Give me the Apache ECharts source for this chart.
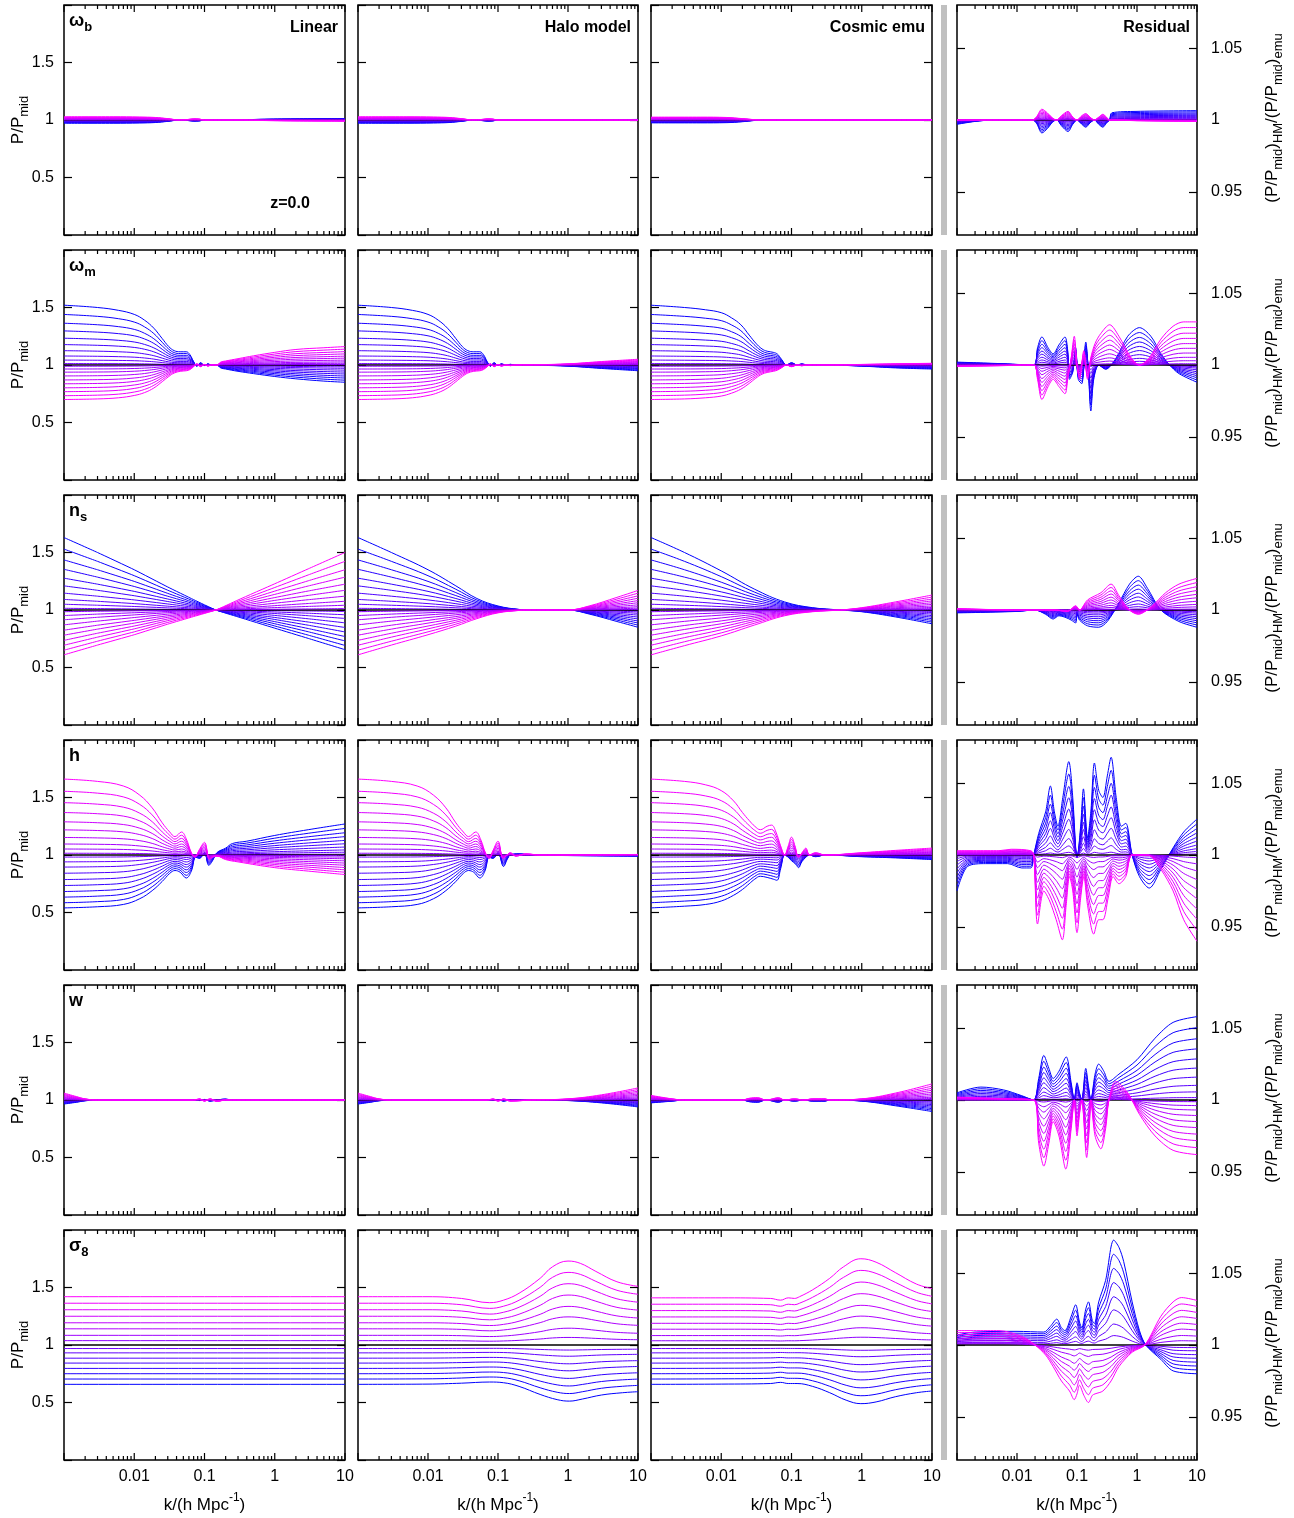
<!DOCTYPE html>
<html>
<head>
<meta charset="utf-8">
<script src="https://cdn.jsdelivr.net/npm/echarts@6/dist/echarts.min.js"></script>
<style>
  html, body { margin: 0; padding: 0; background: #fff; }
  #chart { width: 1294px; height: 1518px; }
</style>
</head>
<body>
<div id="chart"></div>
<script>
// ---------------------------------------------------------------------------
// Power-spectrum response to each cosmological parameter, z = 0.
// Each panel stores the two extreme curves of its family as [k, ratio] pairs:
// the "Blue" end and the "Mag" (magenta) end. The inner curves of a family sit
// between the extreme and the mid model at the fractions given per row.
// ---------------------------------------------------------------------------

// ---- omega_b ----
const ombLinBlue = [[0.001,0.972],[0.005,0.972],[0.012,0.974],[0.02,0.978],[0.03,0.988],[0.042,0.998],[0.055,0.997],[0.07,0.99],[0.085,0.992],[0.1,1.0],[0.3,1.0],[0.6,1.006],[2,1.01],[10,1.012]];
const ombLinMag  = [[0.001,1.028],[0.005,1.028],[0.012,1.026],[0.02,1.022],[0.03,1.012],[0.042,1.002],[0.055,1.003],[0.07,1.01],[0.085,1.008],[0.1,1.0],[0.3,1.0],[0.6,0.996],[2,0.992],[10,0.99]];
const ombHaloBlue = [[0.001,0.972],[0.005,0.972],[0.012,0.974],[0.02,0.978],[0.03,0.988],[0.042,0.998],[0.055,0.997],[0.07,0.99],[0.085,0.992],[0.1,1.0],[1,1.0],[10,1.005]];
const ombHaloMag  = [[0.001,1.028],[0.005,1.028],[0.012,1.026],[0.02,1.022],[0.03,1.012],[0.042,1.002],[0.055,1.003],[0.07,1.01],[0.085,1.008],[0.1,1.0],[1,1.0],[10,0.998]];
const ombEmuBlue = [[0.001,0.975],[0.005,0.975],[0.012,0.977],[0.02,0.985],[0.03,0.996],[0.04,1.0],[10,1.0]];
const ombEmuMag  = [[0.001,1.025],[0.005,1.025],[0.012,1.022],[0.02,1.012],[0.03,1.003],[0.04,1.0],[10,1.0]];
const ombResBlue = [[0.001,0.997],[0.002,0.999],[0.004,1.0],[0.018,1.0],[0.021,0.998],[0.026,0.991],[0.032,0.994],[0.04,0.999],[0.046,1.0],[0.055,0.996],[0.071,0.992],[0.085,0.997],[0.1,1.0],[0.12,0.997],[0.14,0.995],[0.165,0.998],[0.195,1.0],[0.23,0.997],[0.27,0.995],[0.31,0.998],[0.35,1.0],[0.38,1.005],[1,1.006],[10,1.0065]];
const ombResMag  = [[0.001,1.0],[0.018,1.0],[0.021,1.002],[0.026,1.0075],[0.032,1.005],[0.04,1.001],[0.046,1.0],[0.055,1.003],[0.071,1.006],[0.085,1.002],[0.1,1.0],[0.12,1.003],[0.14,1.0045],[0.165,1.002],[0.195,1.0],[0.23,1.002],[0.27,1.004],[0.31,1.002],[0.35,1.0],[0.38,1.0],[1,0.9995],[10,0.999]];

// ---- omega_m ----
const ommLinBlue = [[0.001,1.52],[0.003,1.5],[0.006,1.475],[0.01,1.44],[0.014,1.39],[0.019,1.32],[0.025,1.23],[0.031,1.16],[0.037,1.125],[0.045,1.115],[0.055,1.115],[0.062,1.09],[0.07,1.03],[0.078,0.99],[0.088,1.02],[0.1,0.995],[0.112,1.01],[0.125,1.0],[0.15,1.0],[0.17,0.975],[0.2,0.965],[0.3,0.945],[0.5,0.925],[1,0.9],[2,0.88],[5,0.86],[10,0.85]];
const ommLinMag  = [[0.001,0.70],[0.003,0.705],[0.006,0.715],[0.01,0.735],[0.014,0.76],[0.019,0.8],[0.025,0.855],[0.031,0.9],[0.037,0.93],[0.045,0.945],[0.055,0.95],[0.062,0.96],[0.07,0.985],[0.078,1.01],[0.088,0.985],[0.1,1.005],[0.112,0.99],[0.125,1.0],[0.15,1.0],[0.17,1.025],[0.2,1.035],[0.3,1.055],[0.5,1.08],[1,1.11],[2,1.135],[5,1.15],[10,1.16]];
const ommHaloBlue = [[0.001,1.52],[0.003,1.5],[0.006,1.475],[0.01,1.44],[0.014,1.39],[0.019,1.32],[0.025,1.23],[0.031,1.16],[0.037,1.125],[0.045,1.115],[0.055,1.115],[0.062,1.09],[0.07,1.03],[0.078,0.99],[0.088,1.02],[0.1,0.995],[0.112,1.01],[0.13,1.0],[0.15,1.006],[0.18,1.0],[0.4,0.997],[1,0.99],[3,0.97],[10,0.95]];
const ommHaloMag  = [[0.001,0.70],[0.003,0.705],[0.006,0.715],[0.01,0.735],[0.014,0.76],[0.019,0.8],[0.025,0.855],[0.031,0.9],[0.037,0.93],[0.045,0.945],[0.055,0.95],[0.062,0.96],[0.07,0.985],[0.078,1.01],[0.088,0.985],[0.1,1.005],[0.112,0.99],[0.13,1.0],[0.15,0.994],[0.18,1.0],[0.4,1.003],[1,1.01],[3,1.03],[10,1.05]];
const ommEmuBlue = [[0.001,1.52],[0.003,1.5],[0.006,1.48],[0.01,1.455],[0.014,1.41],[0.019,1.35],[0.025,1.26],[0.031,1.19],[0.038,1.14],[0.045,1.12],[0.055,1.11],[0.063,1.095],[0.072,1.05],[0.085,1.0],[0.1,1.02],[0.12,1.0],[0.14,1.01],[0.17,1.0],[0.3,1.0],[1,0.99],[3,0.975],[10,0.965]];
const ommEmuMag  = [[0.001,0.7],[0.003,0.705],[0.006,0.715],[0.01,0.73],[0.014,0.755],[0.019,0.79],[0.025,0.84],[0.031,0.885],[0.038,0.92],[0.045,0.935],[0.055,0.945],[0.063,0.955],[0.072,0.975],[0.085,1.0],[0.1,0.985],[0.12,1.0],[0.14,0.993],[0.17,1.0],[0.3,1.0],[1,1.005],[3,1.01],[10,1.015]];
const ommResBlue = [[0.001,1.002],[0.005,1.001],[0.019,1.0],[0.022,1.012],[0.026,1.0195],[0.033,1.012],[0.04,1.0078],[0.05,1.014],[0.063,1.0195],[0.07,1.01],[0.075,0.99],[0.085,0.995],[0.095,1.012],[0.105,0.99],[0.12,0.987],[0.14,1.016],[0.155,0.995],[0.17,0.968],[0.19,0.99],[0.23,1.0],[0.3,0.997],[0.45,1.005],[0.7,1.02],[1.1,1.026],[1.7,1.02],[2.5,1.008],[3.5,1.0],[5,0.994],[10,0.988]];
const ommResMag  = [[0.001,0.999],[0.005,0.9995],[0.019,1.0],[0.022,0.99],[0.026,0.976],[0.033,0.985],[0.04,0.99],[0.05,0.985],[0.063,0.98],[0.07,0.99],[0.08,1.005],[0.09,1.02],[0.1,1.0],[0.11,0.99],[0.13,1.01],[0.15,0.99],[0.17,1.005],[0.2,1.015],[0.25,1.022],[0.35,1.028],[0.5,1.02],[0.8,1.005],[1.1,1.0],[1.6,1.005],[2.5,1.018],[4,1.027],[6,1.03],[10,1.03]];

// ---- n_s ----
const nsLinBlue = [[0.001,1.63],[0.003,1.5],[0.01,1.35],[0.03,1.2],[0.07,1.09],[0.145,1.0],[0.3,0.94],[1,0.842],[3,0.753],[10,0.655]];
const nsLinMag  = [[0.001,0.61],[0.003,0.695],[0.01,0.785],[0.03,0.877],[0.07,0.943],[0.145,1.0],[0.3,1.087],[1,1.228],[3,1.358],[10,1.5]];
const nsHaloBlue = [[0.001,1.63],[0.003,1.5],[0.01,1.35],[0.025,1.21],[0.05,1.1],[0.1,1.035],[0.2,1.005],[0.3,1.0],[1,1.0],[2,0.965],[5,0.9],[10,0.85]];
const nsHaloMag  = [[0.001,0.61],[0.003,0.695],[0.01,0.785],[0.025,0.86],[0.05,0.925],[0.1,0.975],[0.2,0.996],[0.3,1.0],[1,1.0],[2,1.035],[5,1.11],[10,1.17]];
const nsEmuBlue = [[0.001,1.63],[0.003,1.5],[0.01,1.34],[0.03,1.18],[0.08,1.07],[0.2,1.02],[0.5,1.0],[1,0.985],[3,0.94],[10,0.88]];
const nsEmuMag  = [[0.001,0.61],[0.003,0.69],[0.01,0.775],[0.03,0.87],[0.08,0.95],[0.2,0.985],[0.5,1.0],[1,1.02],[3,1.07],[10,1.13]];
const nsResBlue = [[0.001,0.998],[0.01,0.999],[0.02,1.0],[0.03,0.997],[0.04,0.9937],[0.05,0.996],[0.063,0.995],[0.08,0.993],[0.095,0.991],[0.1,0.997],[0.11,0.993],[0.15,0.989],[0.23,0.988],[0.32,0.992],[0.5,1.005],[0.75,1.018],[1.05,1.0235],[1.5,1.015],[2.5,1.0],[5,0.992],[10,0.988]];
const nsResMag  = [[0.001,1.001],[0.01,1.0],[0.04,1.0],[0.07,0.999],[0.095,1.003],[0.11,1.0],[0.15,1.007],[0.25,1.012],[0.37,1.018],[0.5,1.01],[0.75,1.0],[1.05,0.997],[1.8,1.003],[3,1.012],[5,1.018],[10,1.022]];

// ---- h ----
const hLinBlue = [[0.001,0.54],[0.003,0.55],[0.007,0.57],[0.012,0.62],[0.018,0.69],[0.025,0.77],[0.032,0.84],[0.038,0.865],[0.045,0.85],[0.055,0.80],[0.065,0.86],[0.075,0.98],[0.085,0.97],[0.1,1.02],[0.115,0.91],[0.13,0.95],[0.15,1.02],[0.2,1.06],[0.25,1.1],[0.4,1.12],[1,1.17],[3,1.22],[10,1.27]];
const hLinMag  = [[0.001,1.66],[0.003,1.64],[0.007,1.6],[0.012,1.52],[0.018,1.41],[0.025,1.28],[0.032,1.2],[0.038,1.16],[0.047,1.2],[0.055,1.14],[0.065,1.02],[0.073,0.98],[0.085,1.05],[0.1,1.11],[0.118,0.96],[0.13,0.98],[0.15,0.99],[0.2,0.96],[0.3,0.94],[1,0.89],[3,0.86],[10,0.83]];
const hHaloBlue = [[0.001,0.54],[0.003,0.55],[0.007,0.57],[0.012,0.62],[0.018,0.69],[0.025,0.77],[0.032,0.84],[0.038,0.865],[0.045,0.85],[0.055,0.80],[0.065,0.86],[0.075,0.98],[0.085,0.97],[0.1,1.02],[0.12,0.9],[0.135,0.96],[0.15,1.0],[0.2,1.01],[0.3,1.0],[1,0.995],[10,0.99]];
const hHaloMag  = [[0.001,1.66],[0.003,1.64],[0.007,1.6],[0.012,1.52],[0.018,1.41],[0.025,1.28],[0.032,1.2],[0.038,1.16],[0.048,1.2],[0.057,1.13],[0.066,1.02],[0.075,0.97],[0.085,1.04],[0.1,1.12],[0.118,0.97],[0.13,0.99],[0.15,1.02],[0.18,0.99],[0.25,1.01],[0.4,1.0],[1,1.0],[10,1.005]];
const hEmuBlue = [[0.001,0.54],[0.003,0.555],[0.006,0.57],[0.01,0.6],[0.015,0.65],[0.02,0.7],[0.025,0.75],[0.03,0.79],[0.036,0.815],[0.045,0.805],[0.055,0.79],[0.062,0.78],[0.07,0.88],[0.08,1.0],[0.09,0.98],[0.1,0.95],[0.115,0.92],[0.126,0.89],[0.14,0.94],[0.16,0.98],[0.18,1.0],[0.22,0.985],[0.3,1.0],[1,0.985],[3,0.975],[10,0.96]];
const hEmuMag  = [[0.001,1.66],[0.003,1.64],[0.006,1.61],[0.01,1.56],[0.015,1.47],[0.02,1.37],[0.025,1.3],[0.03,1.25],[0.036,1.22],[0.045,1.25],[0.052,1.26],[0.06,1.2],[0.07,1.08],[0.08,1.0],[0.09,1.08],[0.1,1.155],[0.112,1.08],[0.126,0.98],[0.145,1.03],[0.16,1.06],[0.18,1.0],[0.22,1.02],[0.3,1.0],[1,1.02],[3,1.04],[10,1.06]];
const hResBlue = [[0.001,0.975],[0.0015,0.992],[0.003,0.994],[0.007,0.994],[0.012,0.991],[0.017,0.991],[0.019,1.0],[0.023,1.015],[0.03,1.03],[0.036,1.048],[0.042,1.03],[0.048,1.02],[0.058,1.04],[0.073,1.065],[0.085,1.04],[0.095,1.005],[0.1,0.998],[0.115,1.02],[0.128,1.046],[0.15,1.012],[0.17,1.03],[0.195,1.064],[0.23,1.045],[0.27,1.04],[0.32,1.055],[0.37,1.068],[0.45,1.04],[0.55,1.02],[0.65,1.022],[0.83,1.0],[1.1,0.985],[1.6,0.977],[2.5,0.99],[4,1.005],[6,1.016],[10,1.025]];
const hResMag  = [[0.001,1.003],[0.005,1.003],[0.008,1.004],[0.017,1.003],[0.019,1.0],[0.022,0.952],[0.028,0.975],[0.035,0.968],[0.045,0.955],[0.057,0.941],[0.066,0.965],[0.075,0.985],[0.085,0.975],[0.1,0.946],[0.115,0.97],[0.13,0.985],[0.15,0.965],[0.19,0.945],[0.23,0.955],[0.27,0.955],[0.33,0.97],[0.4,0.985],[0.5,0.98],[0.65,0.985],[0.83,1.0],[1.5,1.0],[2.5,0.99],[4,0.975],[6,0.955],[10,0.94]];

// ---- w ----
const wLinBlue = [[0.001,0.965],[0.0015,0.98],[0.002,0.993],[0.003,1.0],[0.07,1.0],[0.085,0.995],[0.1,1.005],[0.12,0.99],[0.15,1.0],[0.2,1.008],[0.25,1.0],[10,1.0]];
const wLinMag  = [[0.001,1.06],[0.0015,1.03],[0.002,1.01],[0.003,1.0],[0.07,1.0],[0.085,1.01],[0.1,0.99],[0.12,1.01],[0.15,0.987],[0.2,1.0],[0.25,1.0],[10,1.0]];
const wHaloBlue = [[0.001,0.965],[0.0015,0.98],[0.002,0.993],[0.003,1.0],[0.07,1.0],[0.085,0.995],[0.1,1.005],[0.12,0.99],[0.15,1.0],[0.3,1.0],[1,0.995],[3,0.975],[10,0.94]];
const wHaloMag  = [[0.001,1.06],[0.0015,1.03],[0.002,1.01],[0.003,1.0],[0.07,1.0],[0.085,1.01],[0.1,0.99],[0.12,1.01],[0.15,0.99],[0.3,1.0],[1,1.01],[3,1.045],[10,1.105]];
const wEmuBlue = [[0.001,0.975],[0.002,0.99],[0.003,1.0],[0.02,1.0],[0.025,0.985],[0.033,0.98],[0.043,1.0],[0.05,0.995],[0.065,0.98],[0.08,1.0],[0.11,0.99],[0.15,1.0],[0.2,0.99],[0.3,0.99],[0.35,1.0],[1,0.99],[3,0.95],[10,0.9]];
const wEmuMag  = [[0.001,1.04],[0.002,1.01],[0.003,1.0],[0.02,1.0],[0.025,1.015],[0.033,1.02],[0.043,1.0],[0.05,1.005],[0.065,1.02],[0.08,1.0],[0.11,1.01],[0.15,1.0],[0.2,1.01],[0.3,1.01],[0.35,1.0],[1,1.01],[3,1.06],[10,1.14]];
const wResBlue = [[0.001,1.005],[0.0025,1.009],[0.006,1.007],[0.012,1.003],[0.019,1.0],[0.023,1.015],[0.028,1.031],[0.034,1.022],[0.04,1.015],[0.05,1.02],[0.066,1.03],[0.08,1.012],[0.09,1.0],[0.1,1.012],[0.11,1.005],[0.12,1.0],[0.14,1.022],[0.155,1.01],[0.17,1.0],[0.2,1.018],[0.23,1.025],[0.28,1.02],[0.34,1.013],[0.5,1.018],[1,1.028],[2,1.043],[4,1.054],[10,1.058]];
const wResMag  = [[0.001,1.002],[0.005,1.001],[0.019,1.0],[0.023,0.97],[0.028,0.954],[0.034,0.97],[0.04,0.985],[0.05,0.975],[0.065,0.952],[0.08,0.98],[0.09,1.0],[0.1,0.975],[0.11,0.99],[0.12,1.0],[0.145,0.96],[0.16,0.98],[0.17,1.0],[0.2,0.975],[0.25,0.966],[0.3,0.98],[0.34,1.0],[0.44,1.013],[0.7,1.005],[1.1,0.99],[2,0.975],[4,0.965],[10,0.962]];

// ---- sigma_8 ----
const s8LinBlue = [[0.001,0.658],[10,0.658]];
const s8LinMag  = [[0.001,1.42],[10,1.42]];
const s8HaloBlue = [[0.001,0.658],[0.01,0.66],[0.03,0.668],[0.076,0.678],[0.12,0.672],[0.2,0.64],[0.4,0.57],[0.7,0.525],[1.05,0.512],[1.6,0.53],[3,0.565],[6,0.585],[10,0.594]];
const s8HaloMag  = [[0.001,1.42],[0.01,1.42],[0.03,1.405],[0.076,1.368],[0.12,1.39],[0.2,1.45],[0.4,1.58],[0.6,1.68],[1,1.73],[1.5,1.71],[2.5,1.64],[5,1.55],[10,1.51]];
const s8EmuBlue = [[0.001,0.658],[0.01,0.66],[0.05,0.665],[0.07,0.675],[0.09,0.665],[0.12,0.665],[0.2,0.64],[0.35,0.585],[0.6,0.52],[0.97,0.49],[1.6,0.505],[3,0.55],[6,0.585],[10,0.6]];
const s8EmuMag  = [[0.001,1.41],[0.01,1.41],[0.05,1.405],[0.07,1.39],[0.09,1.41],[0.11,1.405],[0.13,1.42],[0.2,1.48],[0.35,1.58],[0.55,1.68],[0.97,1.75],[1.6,1.72],[3,1.63],[6,1.53],[10,1.49]];
const s8ResBlue = [[0.001,1.007],[0.002,1.009],[0.01,1.0095],[0.028,1.009],[0.036,1.013],[0.046,1.018],[0.055,1.012],[0.063,1.01],[0.08,1.02],[0.095,1.028],[0.11,1.016],[0.12,1.012],[0.14,1.025],[0.155,1.03],[0.18,1.017],[0.195,1.015],[0.23,1.03],[0.3,1.045],[0.41,1.073],[0.5,1.068],[0.6,1.058],[0.83,1.03],[1.1,1.01],[1.4,1.0],[2.5,0.99],[4,0.982],[10,0.98]];
const s8ResMag  = [[0.001,1.01],[0.005,1.01],[0.012,1.006],[0.02,1.0],[0.03,0.993],[0.04,0.985],[0.055,0.975],[0.075,0.968],[0.09,0.962],[0.1,0.966],[0.11,0.972],[0.13,0.965],[0.155,0.96],[0.18,0.965],[0.2,0.966],[0.27,0.968],[0.37,0.975],[0.5,0.985],[0.83,0.995],[1.35,1.0],[2.5,1.02],[4,1.03],[5.5,1.033],[10,1.031]];

// Fractions of the extreme deviation carried by each curve, innermost first.
const weights10 = [0.03, 0.1, 0.18, 0.28, 0.39, 0.5, 0.62, 0.74, 0.87, 1];
const weights8  = [0.09, 0.2, 0.335, 0.46, 0.595, 0.73, 0.865, 1];

// Row labels, column titles and tick labels.
const rowLabels = [['ω','b'], ['ω','m'], ['n','s'], ['h',''], ['w',''], ['σ','8']];
const colTitles = ['Linear', 'Halo model', 'Cosmic emu', 'Residual'];
const redshiftLabel = 'z=0.0';
const ratioTicks = [0.5, 1, 1.5];
const residualTicks = [0.95, 1, 1.05];
const kDecades = [0.001, 0.01, 0.1, 1, 10];
const kMinorFactors = [2, 3, 4, 5, 6, 7, 8, 9];

const rowSpecs = [
  { weights: weights10, mode: 'power' },
  { weights: weights10, mode: 'power' },
  { weights: weights10, mode: 'power' },
  { weights: weights10, mode: 'power' },
  { weights: weights10, mode: 'power' },
  { weights: weights8,  mode: 'linear' }
];

const panelCurves = [
  [[ombLinBlue, ombLinMag], [ombHaloBlue, ombHaloMag], [ombEmuBlue, ombEmuMag], [ombResBlue, ombResMag]],
  [[ommLinBlue, ommLinMag], [ommHaloBlue, ommHaloMag], [ommEmuBlue, ommEmuMag], [ommResBlue, ommResMag]],
  [[nsLinBlue, nsLinMag],   [nsHaloBlue, nsHaloMag],   [nsEmuBlue, nsEmuMag],   [nsResBlue, nsResMag]],
  [[hLinBlue, hLinMag],     [hHaloBlue, hHaloMag],     [hEmuBlue, hEmuMag],     [hResBlue, hResMag]],
  [[wLinBlue, wLinMag],     [wHaloBlue, wHaloMag],     [wEmuBlue, wEmuMag],     [wResBlue, wResMag]],
  [[s8LinBlue, s8LinMag],   [s8HaloBlue, s8HaloMag],   [s8EmuBlue, s8EmuMag],   [s8ResBlue, s8ResMag]]
];

// ---------------------------------------------------------------------------
// Layout
// ---------------------------------------------------------------------------
const FONT = "'Liberation Sans', Arial, Helvetica, sans-serif";
const COL_X = [64, 358, 651, 957];
const COL_W = [281, 280, 281, 240];
const ROW_TOP = 5, ROW_STEP = 245, ROW_H = 230;
const SEP_X = 941, SEP_W = 6;

const kTicks = [];
kDecades.forEach((d, i) => {
  kTicks.push(d);
  if (i < kDecades.length - 1) kMinorFactors.forEach(f => kTicks.push(d * f));
});

function familyCurve(env, w, mode) {
  return env.map(([k, v]) => [k, mode === 'power' ? Math.pow(v, w) : 1 + w * (v - 1)]);
}
function shade(t) {
  return 'rgb(' + Math.round(255 * t) + ',0,255)';
}

const grids = [], xAxes = [], yAxes = [], series = [];

for (let r = 0; r < 6; r++) {
  for (let c = 0; c < 4; c++) {
    const idx = r * 4 + c;
    const top = ROW_TOP + r * ROW_STEP;
    const isRes = c === 3;
    grids.push({
      left: COL_X[c], top: top, width: COL_W[c], height: ROW_H,
      show: true, borderColor: '#000', borderWidth: 1.5, backgroundColor: 'transparent'
    });
    xAxes.push({
      gridIndex: idx, type: 'log', logBase: 10, min: 0.001, max: 10, position: 'bottom',
      axisLine: { show: false }, axisTick: { show: false }, splitLine: { show: false },
      axisLabel: {
        show: r === 5, margin: 9, fontSize: 16, fontFamily: FONT, color: '#000',
        formatter: v => (v < 0.005 ? '' : String(+Number(v).toPrecision(3)))
      }
    });
    const yBase = isRes
      ? { min: 0.92, max: 1.08 }
      : { min: 0, max: 2, interval: 0.5 };
    const tickStyle = { show: true, inside: true, length: 8, lineStyle: { color: '#000', width: 1.2 } };
    if (isRes) tickStyle.customValues = residualTicks;
    ['left', 'right'].forEach(pos => {
      const showLab = isRes ? pos === 'right' : (pos === 'left' && c === 0);
      const lab = {
        show: showLab, fontSize: 16, fontFamily: FONT, color: '#000',
        margin: isRes ? 14 : 10
      };
      if (isRes) {
        lab.customValues = residualTicks;
        lab.formatter = v => (Math.abs(v - 1) < 1e-9 ? '1' : Number(v).toFixed(2));
      } else {
        lab.formatter = v => (ratioTicks.some(t => Math.abs(t - v) < 1e-9) ? String(v) : '');
      }
      yAxes.push(Object.assign({
        gridIndex: idx, type: 'value', position: pos,
        axisLine: { show: false }, splitLine: { show: false },
        axisTick: tickStyle, axisLabel: lab
      }, yBase));
    });

    // Curve family: blue end first, mid model, then magenta end last.
    const spec = rowSpecs[r];
    const [envBlue, envMag] = panelCurves[r][c];
    const n = spec.weights.length;
    const smooth = (r === 2 && c === 0) ? 0.15 : (isRes ? 0.3 : 0.4);
    const mkLine = (data, color, width, z) => ({
      type: 'line', xAxisIndex: idx, yAxisIndex: idx * 2, data: data,
      symbol: 'none', showSymbol: false, smooth: smooth,
      lineStyle: { color: color, width: width }, silent: true, z: z, animation: false
    });
    for (let i = n - 1; i >= 0; i--) {
      series.push(mkLine(familyCurve(envBlue, spec.weights[i], spec.mode), shade(0.5 * (1 - (i + 1) / n)), 1, 2));
    }
    series.push(mkLine([[0.001, 1], [10, 1]], '#000', 1.6, 2));
    for (let i = 0; i < n; i++) {
      series.push(mkLine(familyCurve(envMag, spec.weights[i], spec.mode), shade(0.5 + 0.5 * (i + 1) / n), 1, 2));
    }

    // k ticks (decades and 2..9 subdivisions) on the top and bottom edges.
    series.push({
      type: 'custom', xAxisIndex: idx, yAxisIndex: idx * 2, silent: true, z: 5, clip: false,
      data: kTicks.map(k => [k, 1]),
      renderItem: (params, api) => {
        const k = api.value(0);
        const x = api.coord([k, 1])[0];
        const cs = params.coordSys;
        const lg = Math.log10(k);
        const len = Math.abs(lg - Math.round(lg)) < 1e-6 ? 7 : 4;
        const st = { stroke: '#000', lineWidth: 1.2 };
        return {
          type: 'group',
          children: [
            { type: 'line', shape: { x1: x, y1: cs.y + cs.height, x2: x, y2: cs.y + cs.height - len }, style: st },
            { type: 'line', shape: { x1: x, y1: cs.y, x2: x, y2: cs.y + len }, style: st }
          ]
        };
      }
    });
  }
}

// ---------------------------------------------------------------------------
// Text and separators
// ---------------------------------------------------------------------------
const richMain = (size, weight) => ({ fontSize: size, fontFamily: FONT, fontWeight: weight || 'normal', fill: '#000', lineHeight: 26 });
const richSub = (size, weight) => ({ fontSize: size, fontFamily: FONT, fontWeight: weight || 'normal', fill: '#000', lineHeight: 13, verticalAlign: 'bottom', textVerticalAlign: 'bottom' });
const richSup = (size, weight) => ({ fontSize: size, fontFamily: FONT, fontWeight: weight || 'normal', fill: '#000', lineHeight: 13, verticalAlign: 'top', textVerticalAlign: 'top' });

function textEl(x, y, text, opts) {
  return Object.assign({
    type: 'text', x: x, y: y, z: 100, silent: true,
    style: Object.assign({
      text: text, fontFamily: FONT, fontSize: 16, fill: '#000',
      align: 'left', textAlign: 'left', verticalAlign: 'middle', textVerticalAlign: 'middle'
    }, opts.style || {})
  }, opts.el || {});
}
function setAlign(style, h) { style.align = h; style.textAlign = h; return style; }

const graphics = [];
for (let r = 0; r < 6; r++) {
  const top = ROW_TOP + r * ROW_STEP;
  graphics.push({ type: 'rect', z: 1, silent: true, shape: { x: SEP_X, y: top, width: SEP_W, height: ROW_H }, style: { fill: '#c0c0c0' } });

  // row parameter label
  const [m, s] = rowLabels[r];
  graphics.push(textEl(COL_X[0] + 5, top + 16, s ? '{a|' + m + '}{b|' + s + '}' : '{a|' + m + '}', {
    style: { rich: { a: richMain(18, 'bold'), b: richSub(13, 'bold') } }
  }));

  // left axis title
  graphics.push(textEl(18, top + ROW_H / 2, '{a|P/P}{b|mid}', {
    el: { rotation: Math.PI / 2 },
    style: setAlign({ rich: { a: richMain(17), b: richSub(13) } }, 'center')
  }));
  // right axis title
  graphics.push(textEl(1272, top + ROW_H / 2 - 2, '{a|(P/P}{b|mid}{a|)}{b|HM}{a|/(P/P}{b|mid}{a|)}{b|emu}', {
    el: { rotation: Math.PI / 2 },
    style: setAlign({ rich: { a: richMain(17), b: richSub(13) } }, 'center')
  }));
}

// column titles along the first row
colTitles.forEach((t, c) => {
  graphics.push(textEl(COL_X[c] + COL_W[c] - 7, ROW_TOP + 23, t, {
    style: setAlign({ fontSize: 16, fontWeight: 'bold' }, 'right')
  }));
});
graphics.push(textEl(COL_X[0] + 226, ROW_TOP + 199, redshiftLabel, {
  style: setAlign({ fontSize: 16, fontWeight: 'bold' }, 'center')
}));

// k axis titles under the bottom row
for (let c = 0; c < 4; c++) {
  graphics.push(textEl(COL_X[c] + COL_W[c] / 2, 1505, '{a|k/(h Mpc}{p|-1}{a|)}', {
    style: setAlign({ rich: { a: richMain(17), p: richSup(12) } }, 'center')
  }));
}

const chart = echarts.init(document.getElementById('chart'), null, { renderer: 'canvas' });
chart.setOption({
  backgroundColor: '#fff',
  animation: false,
  grid: grids,
  xAxis: xAxes,
  yAxis: yAxes,
  series: series,
  graphic: { elements: graphics }
});
</script>
</body>
</html>
